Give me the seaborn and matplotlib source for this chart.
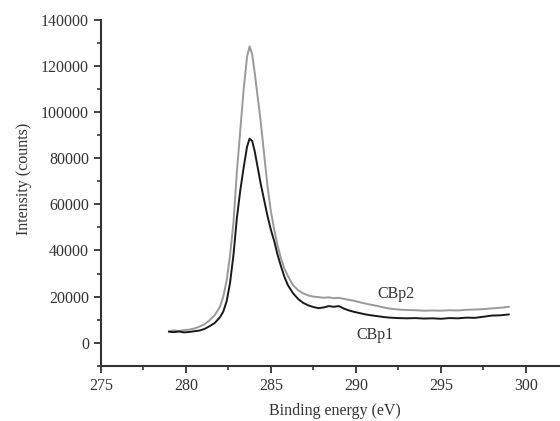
import matplotlib
matplotlib.use("Agg")
import matplotlib.pyplot as plt
import seaborn as sns
import pandas as pd
from matplotlib.ticker import MultipleLocator

sns.set_theme(style="ticks")
plt.rcParams['font.family'] = ['Liberation Serif', 'DejaVu Serif']

# CBp1 (black)
x1 = [279.0, 279.3, 279.6, 279.9, 280.2, 280.5, 280.8, 281.1, 281.4, 281.7,
      282.0, 282.2, 282.4, 282.6, 282.8, 283.0, 283.2, 283.4, 283.6, 283.75,
      283.9, 284.05, 284.2, 284.4, 284.6, 284.8, 285.0, 285.2, 285.4, 285.6,
      285.8, 286.0, 286.3, 286.6, 286.9, 287.2, 287.5, 287.8, 288.1, 288.4,
      288.7, 289.0, 289.3, 289.6, 289.9, 290.2, 290.5, 290.8, 291.1, 291.4,
      291.7, 292.0, 292.5, 293.0, 293.5, 294.0, 294.5, 295.0, 295.5, 296.0,
      296.5, 297.0, 297.5, 298.0, 298.5, 299.0]
y1 = [4800, 4600, 4900, 4500, 4700, 5000, 5300, 6000, 7200, 8600,
      11000, 13500, 18000, 26000, 38000, 54000, 66000, 76000, 85000, 88500,
      87500, 83000, 77000, 69000, 62000, 55000, 49000, 44000, 38000, 33000,
      28500, 25000, 21500, 19000, 17300, 16200, 15500, 15000, 15300, 15900,
      15600, 15900, 14800, 14000, 13400, 12900, 12400, 12000, 11700, 11400,
      11100, 10900, 10700, 10600, 10700, 10500, 10600, 10400, 10700, 10600,
      10900, 10800, 11300, 11800, 11900, 12300]

# CBp2 (grey)
x2 = x1
y2 = [5000, 5400, 5100, 5500, 5700, 6200, 7000, 8000, 9800, 12000,
      15500, 20000, 27000, 38000, 52000, 74000, 92000, 110000, 124000, 128500,
      125000, 117000, 108000, 96000, 82000, 68000, 57000, 49000, 42000, 36500,
      32000, 29000, 25000, 22800, 21400, 20500, 20000, 19800, 19500, 19700,
      19300, 19500, 19000, 18600, 18200, 17600, 17100, 16600, 16200, 15700,
      15200, 14800, 14400, 14200, 14100, 13900, 14000, 13900, 14100, 14000,
      14300, 14400, 14600, 14900, 15200, 15600]

df1 = pd.DataFrame({"x": x1, "y": y1})
df2 = pd.DataFrame({"x": x2, "y": y2})

fig = plt.figure(figsize=(5.6, 4.21), dpi=100)
ax = fig.add_axes([0.180, 0.131, 0.820, 0.822])

sns.lineplot(data=df2, x="x", y="y", ax=ax, color="#9a9a9a", lw=1.4, sort=False)
sns.lineplot(data=df1, x="x", y="y", ax=ax, color="#1a1a1a", lw=1.4, sort=False)

ax.set_xlim(275, 302)
ax.set_ylim(-10000, 140000)
ax.xaxis.set_major_locator(MultipleLocator(5))
ax.xaxis.set_minor_locator(MultipleLocator(2.5))
ax.yaxis.set_major_locator(MultipleLocator(20000))
ax.yaxis.set_minor_locator(MultipleLocator(10000))

for s in ["top", "right"]:
    ax.spines[s].set_visible(False)
for s in ["left", "bottom"]:
    ax.spines[s].set_linewidth(1.5)
    ax.spines[s].set_color("#333333")

ax.tick_params(which="major", direction="out", length=5, width=1.3,
               color="#333333", labelsize=11.5, labelcolor="#333333", pad=3.5)
ax.tick_params(which="minor", direction="out", length=3, width=1.2, color="#333333")

ax.set_xlabel("Binding energy (eV)", fontsize=11.5, color="#333333")
ax.set_ylabel("Intensity (counts)", fontsize=11.5, color="#333333")
ax.xaxis.set_label_coords(0.51, -0.108)
ax.yaxis.set_label_coords(-0.150, 0.54)

ax.text(292.35, 21300, "CBp2", fontsize=11.5, color="#333333", ha="center", va="center")
ax.text(291.1, 3500, "CBp1", fontsize=11.5, color="#333333", ha="center", va="center")

fig.savefig("out.png", dpi=100)
